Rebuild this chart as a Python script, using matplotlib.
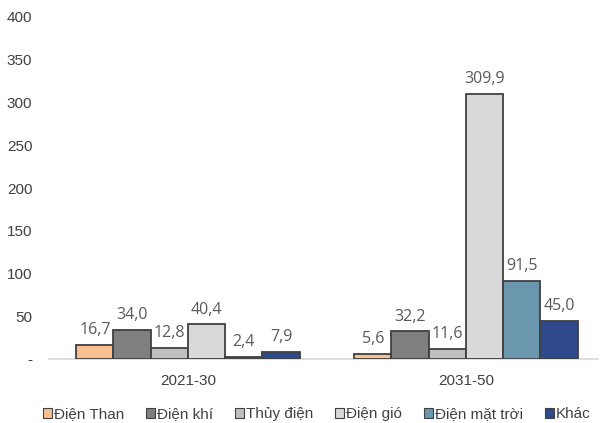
import matplotlib.pyplot as plt
import numpy as np

# data
periods = ['2021-30', '2031-50']
sources = ['Điện Than', 'Điện khí', 'Thủy điện', 'Điện gió', 'Điện mặt trời', 'Khác']
values = [
    [16.7, 5.6],
    [34.0, 32.2],
    [12.8, 11.6],
    [40.4, 309.9],
    [2.4, 91.5],
    [7.9, 45.0],
]
colors = ['#FAC090', '#7F7F7F', '#BFBFBF', '#D9D9D9', '#6A97AE', '#2E4A8C']

plt.rcParams['font.family'] = ['Liberation Sans', 'DejaVu Sans']

fig = plt.figure(figsize=(6, 4.23), dpi=100)
ax = fig.add_axes([49 / 600, 1 - 359 / 423, 549 / 600, 342 / 423])

x = np.arange(len(periods))
w = 0.134
for i, (name, vals) in enumerate(zip(sources, values)):
    pos = x - 2.5 * w + i * w
    bars = ax.bar(pos, vals, w, color=colors[i], edgecolor='#404040',
                  linewidth=1.3, label=name, zorder=3)
    for b, v in zip(bars, vals):
        ax.annotate(f'{v:.1f}'.replace('.', ','), (b.get_x() + b.get_width() / 2, v),
                    xytext=(0, 5), textcoords='offset points', ha='center', va='bottom',
                    fontsize=11.5, color='#595959', family=['Open Sans', 'DejaVu Sans'])

ax.set_xlim(-0.5, 1.475)
ax.set_ylim(0, 400)
ax.set_yticks(range(0, 401, 50))
ax.set_yticklabels(['-'] + [str(v) for v in range(50, 401, 50)])
ax.set_xticks(x)
ax.set_xticklabels(periods)
ax.tick_params(axis='both', length=0, labelsize=11, colors='#404040')
ax.tick_params(axis='y', pad=12)
ax.tick_params(axis='x', pad=11)
for s in ['top', 'right', 'left']:
    ax.spines[s].set_visible(False)
ax.spines['bottom'].set_color('#D9D9D9')
ax.spines['bottom'].set_linewidth(1.2)

leg = fig.legend(loc='lower center', bbox_to_anchor=(0.528, -0.028), ncol=6, frameon=False,
                 fontsize=11, handlelength=0.6, handleheight=0.6, handletextpad=0.15,
                 columnspacing=1.4, labelcolor='#404040')
for h in leg.legend_handles:
    h.set_linewidth(0.8)

fig.savefig('out.png', dpi=100)
